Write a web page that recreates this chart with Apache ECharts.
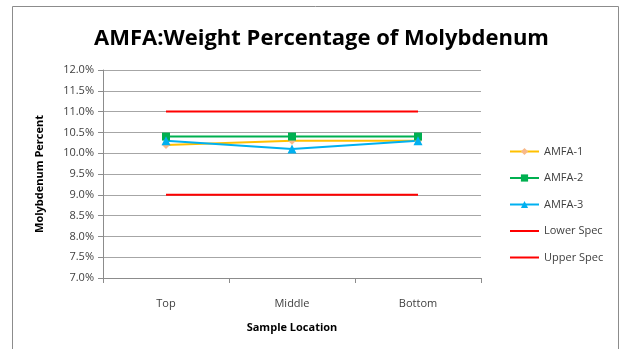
<!DOCTYPE html>
<html>
<head>
<meta charset="utf-8">
<script src="https://cdn.jsdelivr.net/npm/echarts@6/dist/echarts.min.js"></script>
<style>
  html, body { margin: 0; padding: 0; background: #fff; }
  #chart { width: 621px; height: 349px; }
</style>
</head>
<body>
<div id="chart"></div>
<script>
// Sample locations along the part
const categories = ['Top', 'Middle', 'Bottom'];

// Molybdenum weight percent per sample
const amfa1 = [10.2, 10.3, 10.3];
const amfa2 = [10.4, 10.4, 10.4];
const amfa3 = [10.3, 10.1, 10.3];

// Specification limits
const lowerSpec = [9.0, 9.0, 9.0];
const upperSpec = [11.0, 11.0, 11.0];

const FONT = '"Open Sans", "DejaVu Sans", sans-serif';

const chart = echarts.init(document.getElementById('chart'), null, { renderer: 'canvas' });

function lineSeries(name, data, color, symbol, symbolSize, markerColor) {
  return {
    name: name,
    type: 'line',
    data: data,
    symbol: symbol,
    symbolSize: symbolSize,
    showSymbol: symbol !== 'none',
    lineStyle: { color: color, width: 2 },
    itemStyle: { color: markerColor || color },
    animation: false
  };
}

chart.setOption({
  animation: false,
  backgroundColor: '#ffffff',
  graphic: [{
    type: 'rect',
    shape: { x: 12.5, y: 6.5, width: 606, height: 360 },
    style: { fill: 'none', stroke: '#8c8c8c', lineWidth: 1 },
    silent: true
  }],
  title: {
    text: 'AMFA:Weight Percentage of Molybdenum',
    left: 89,
    top: 23,
    textStyle: { fontFamily: FONT, fontSize: 22, fontWeight: 'bold', color: '#000' }
  },
  legend: {
    orient: 'vertical',
    left: 504,
    top: 141,
    itemWidth: 29,
    itemHeight: 9,
    itemGap: 15.5,
    textStyle: { fontFamily: FONT, fontSize: 11, color: '#404040' },
    data: [
      'AMFA-1', 'AMFA-2', 'AMFA-3',
      { name: 'Lower Spec', itemStyle: { opacity: 0 } },
      { name: 'Upper Spec', itemStyle: { opacity: 0 } }
    ]
  },
  grid: { left: 103, right: 140, top: 70, bottom: 71 },
  xAxis: {
    type: 'category',
    data: categories,
    boundaryGap: true,
    name: 'Sample Location',
    nameLocation: 'middle',
    nameGap: 44,
    nameTextStyle: { fontFamily: FONT, fontSize: 11, fontWeight: 'bold', color: '#000' },
    axisLine: { lineStyle: { color: '#8c8c8c' } },
    axisTick: { show: true, length: 5, lineStyle: { color: '#8c8c8c' } },
    axisLabel: { fontFamily: FONT, fontSize: 11, color: '#404040', margin: 20 },
    splitLine: { show: false }
  },
  yAxis: {
    type: 'value',
    min: 7.0,
    max: 12.0,
    interval: 0.5,
    name: 'Molybdenum Percent',
    nameLocation: 'middle',
    nameGap: 58,
    nameTextStyle: { fontFamily: FONT, fontSize: 11, fontWeight: 'bold', color: '#000' },
    axisLine: { show: true, lineStyle: { color: '#8c8c8c' } },
    axisTick: { show: true, length: 5, lineStyle: { color: '#8c8c8c' } },
    axisLabel: {
      fontFamily: FONT, fontSize: 11, color: '#404040', margin: 9,
      formatter: v => v.toFixed(1) + '%'
    },
    splitLine: { lineStyle: { color: '#a6a6a6', width: 1 } }
  },
  series: [
    lineSeries('AMFA-1', amfa1, '#FFC000', 'diamond', 8, '#F8B98A'),
    lineSeries('AMFA-2', amfa2, '#00B050', 'rect', 8),
    lineSeries('AMFA-3', amfa3, '#00B0F0', 'triangle', 9),
    lineSeries('Lower Spec', lowerSpec, '#FF0000', 'none', 0),
    lineSeries('Upper Spec', upperSpec, '#FF0000', 'none', 0)
  ]
});
</script>
</body>
</html>
